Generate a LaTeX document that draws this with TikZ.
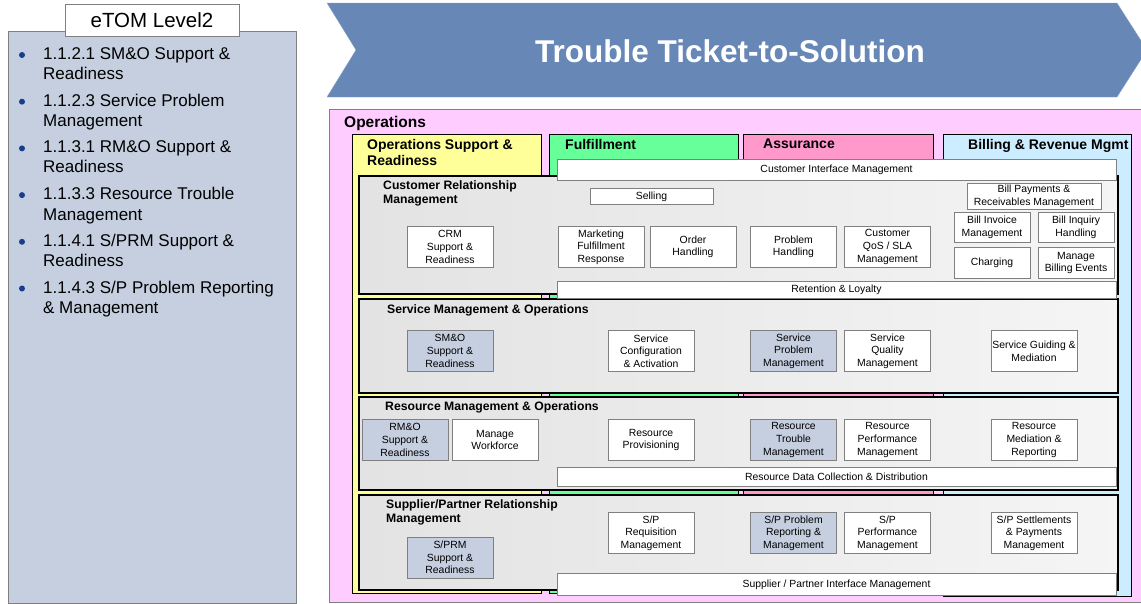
\documentclass[tikz,border=0pt]{standalone}
\usepackage{fontspec}
\setmainfont{Liberation Sans}
\usepackage{tikz}
\usetikzlibrary{positioning}

\definecolor{etomblue}{HTML}{C5CFE0}
\definecolor{chevblue}{HTML}{6787B7}
\definecolor{opspink}{HTML}{FFCCFF}
\definecolor{osryellow}{HTML}{FFFF99}
\definecolor{fulgreen}{HTML}{66FF99}
\definecolor{asspink}{HTML}{FF99CC}
\definecolor{billblue}{HTML}{CCECFF}
\definecolor{bulletblue}{HTML}{1A3C8C}

\tikzset{
  fnbox/.style={draw=gray, fill=white, minimum width=86, minimum height=41, inner sep=1pt, align=center, font=\fontsize{10.4}{12.6}\selectfont},
  hlbox/.style={fnbox, fill=etomblue},
  barbox/.style={fnbox, minimum width=559, minimum height=19},
  panel/.style={draw=black, line width=1.1pt, left color=gray!22, right color=gray!8},
  colbox/.style={draw=black, line width=0.9pt},
  coltitle/.style={anchor=north west, inner sep=0, align=left, font=\fontsize{14}{16}\selectfont\bfseries},
  rowtitle/.style={anchor=north west, inner sep=0, align=left, font=\fontsize{12.2}{14.3}\selectfont\bfseries},
  item/.style={anchor=north west, inner sep=0, align=left, font=\fontsize{17}{20.5}\selectfont},
}

\begin{document}
\begin{tikzpicture}[x=1pt, y=-1pt]
  \useasboundingbox (0,0) rectangle (1141,603);
  % left list of level 2 processes
  \draw[gray, fill=etomblue] (8,31) rectangle (296,603);
  \node[draw=gray, fill=white, minimum width=174, minimum height=32, font=\fontsize{20.5}{22}\selectfont] (level) at (152,20) {eTOM Level2};
  \foreach \txt [count=\i from 0] in {{1.1.2.1 SM\&O Support \&\\Readiness},
      {1.1.2.3 Service Problem\\Management},
      {1.1.3.1 RM\&O Support \&\\Readiness},
      {1.1.3.3 Resource Trouble\\Management},
      {1.1.4.1 S/PRM Support \&\\Readiness},
      {1.1.4.3 S/P Problem Reporting\\\& Management}} {
    \fill[bulletblue] (22,55+46.7*\i) circle (3);
    \node[item] (item\i) at (43,47+46.7*\i) {\txt};
  }

  % title chevron
  \draw[chevblue!75!white, fill=chevblue] (327,3) -- (1117,3) -- (1147,50) -- (1117,97) -- (327,97) -- (356,50) -- cycle;
  \node[text=white, font=\fontsize{31.5}{32}\selectfont\bfseries] (title) at (730,51.5) {Trouble Ticket-to-Solution};

  % operations area and the four columns
  \draw[gray, fill=opspink] (329,109) rectangle (1150,602);
  \node[anchor=base west, inner sep=0, font=\fontsize{15.5}{17}\selectfont\bfseries] (ops) at (344,127.5) {Operations};
  \draw[colbox, fill=osryellow] (352,134) rectangle (541,593);
  \draw[colbox, fill=fulgreen] (549,134) rectangle (738,593);
  \draw[colbox, fill=asspink] (743,134) rectangle (933,593);
  \draw[colbox, fill=billblue] (943,134) rectangle (1131,596);
  \node[coltitle] (osr) at (367,139) {Operations Support \&\\Readiness};
  \node[coltitle] (ful) at (565,139) {Fulfillment};
  \node[coltitle] (ass) at (763,139) {Assurance};
  \node[coltitle] (bil) at (968,139) {Billing \& Revenue Mgmt};

  % horizontal layers
  \draw[panel] (359,176) rectangle (1118,294);
  \draw[panel] (359,299) rectangle (1118,393);
  \draw[panel] (359,397) rectangle (1118,490);
  \draw[panel] (359,495) rectangle (1118,590);
  \node[rowtitle] (crm) at (383,180.5) {Customer Relationship\\Management};
  \node[rowtitle] (smo) at (387,304.5) {Service Management \& Operations};
  \node[rowtitle] (rmo) at (385,401.5) {Resource Management \& Operations};
  \node[rowtitle] (sprm) at (386,499.5) {Supplier/Partner Relationship\\Management};

  % interface bars
  \node[barbox, minimum height=21] (cim) at (836.5,170) {Customer Interface Management};
  \node[barbox, minimum height=17] (retain) at (836.5,290) {Retention \& Loyalty};
  \node[barbox, minimum height=19] (rdcd) at (836.5,477) {Resource Data Collection \& Distribution};
  \node[barbox, minimum height=22] (spim) at (836.5,584.5) {Supplier / Partner Interface Management};

  % CRM
  \node[fnbox] (crmsr) at (450,247) {CRM\\Support \&\\Readiness};
  \node[fnbox, minimum width=123, minimum height=16] (selling) at (651.5,196.5) {Selling};
  \node[fnbox] (mfr) at (601,247) {Marketing\\Fulfillment\\Response};
  \node[fnbox] (order) at (693,247) {Order\\Handling};
  \node[fnbox] (probh) at (793.5,247) {Problem\\Handling};
  \node[fnbox] (qos) at (887.5,247) {Customer\\QoS / SLA\\Management};
  \node[fnbox, minimum width=134, minimum height=26] (billpay) at (1034,196.5) {Bill Payments \&\\Receivables Management};
  \node[fnbox, minimum width=76, minimum height=30] (billinv) at (992,227.5) {Bill Invoice\\Management};
  \node[fnbox, minimum width=76, minimum height=30] (billinq) at (1076,227.5) {Bill Inquiry\\Handling};
  \node[fnbox, minimum width=76, minimum height=31] (charging) at (992,263) {Charging};
  \node[fnbox, minimum width=76, minimum height=31] (billev) at (1076,263) {Manage\\Billing Events};

  % SM&O
  \node[hlbox] (smosr) at (450,351) {SM\&O\\Support \&\\Readiness};
  \node[fnbox] (scfg) at (651,351) {Service\\Configuration\\\& Activation};
  \node[hlbox] (sprob) at (793.5,351) {Service\\Problem\\Management};
  \node[fnbox] (squal) at (887.5,351) {Service\\Quality\\Management};
  \node[fnbox] (sguide) at (1034,351) {Service Guiding \&\\Mediation};

  % RM&O
  \node[hlbox] (rmosr) at (405,440) {RM\&O\\Support \&\\Readiness};
  \node[fnbox] (workforce) at (495,440) {Manage\\Workforce};
  \node[fnbox] (rprov) at (651,440) {Resource\\Provisioning};
  \node[hlbox] (rtrouble) at (793.5,440) {Resource\\Trouble\\Management};
  \node[fnbox] (rperf) at (887.5,440) {Resource\\Performance\\Management};
  \node[fnbox] (rmed) at (1034,440) {Resource\\Mediation \&\\Reporting};

  % S/PRM
  \node[hlbox] (sprmsr) at (450,557.5) {S/PRM\\Support \&\\Readiness};
  \node[fnbox] (spreq) at (651,533) {S/P\\Requisition\\Management};
  \node[hlbox] (spprob) at (793.5,533) {S/P Problem\\Reporting \&\\Management};
  \node[fnbox] (spperf) at (887.5,533) {S/P\\Performance\\Management};
  \node[fnbox] (spsettle) at (1034,533) {S/P Settlements\\\& Payments\\Management};
\end{tikzpicture}
\end{document}
